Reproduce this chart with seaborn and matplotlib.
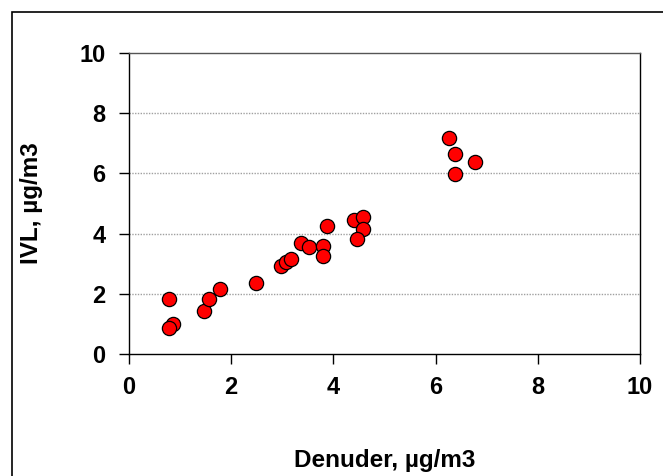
import matplotlib
matplotlib.use("Agg")
import matplotlib.pyplot as plt
import seaborn as sns
import pandas as pd
from matplotlib.patches import Rectangle

denuder = [0.79, 0.87, 0.79, 1.47, 1.57, 1.78, 2.49, 2.97, 3.07, 3.18,
           3.37, 3.53, 3.80, 3.80, 3.87, 4.40, 4.58, 4.58, 4.47,
           6.27, 6.38, 6.77, 6.37]
ivl = [1.83, 0.99, 0.86, 1.43, 1.83, 2.16, 2.37, 2.93, 3.04, 3.16,
       3.68, 3.56, 3.58, 3.26, 4.24, 4.45, 4.54, 4.14, 3.82,
       7.17, 6.64, 6.37, 5.97]
ticks = [0, 2, 4, 6, 8, 10]
xlabel = "Denuder, µg/m3"
ylabel = "IVL, µg/m3"

df = pd.DataFrame({"Denuder": denuder, "IVL": ivl})

sns.set_style("white")
plt.rcParams['font.family'] = ['Liberation Sans', 'DejaVu Sans']
plt.rcParams['font.weight'] = 'bold'
plt.rcParams['text.color'] = 'black'
plt.rcParams['axes.labelcolor'] = 'black'
plt.rcParams['xtick.color'] = 'black'
plt.rcParams['ytick.color'] = 'black'

fig = plt.figure(figsize=(6.63, 4.76), dpi=100)
ax = fig.add_axes([129/663, 1 - 354/476, (640-129)/663, (354-53)/476])

for y in ticks[1:-1]:
    ax.axhline(y, color='#a0a0a0', lw=1.0, ls=(0, (1, 1)), zorder=0)

sns.scatterplot(data=df, x="Denuder", y="IVL", ax=ax, s=105, color='#ff0000',
                edgecolor='black', linewidth=0.9, zorder=3, clip_on=False)

ax.set_xlim(0, 10)
ax.set_ylim(0, 10)
ax.set_xticks(ticks)
ax.set_yticks(ticks)
ax.set_xticklabels([str(t) for t in ticks], fontsize=17, fontweight='bold', color='black')
ax.set_yticklabels([str(t) for t in ticks], fontsize=17, fontweight='bold', color='black')
ax.tick_params(axis='both', direction='out', length=7, width=1, color='black',
               bottom=True, left=True)
ax.tick_params(axis='x', pad=9)
ax.tick_params(axis='y', pad=10)
for side in ['left', 'bottom', 'right', 'top']:
    ax.spines[side].set_visible(True)
    ax.spines[side].set_color('black')
    ax.spines[side].set_linewidth(1.0)
ax.spines['top'].set_color('#555555')
ax.set_xlabel(xlabel, fontsize=17.5, fontweight='bold', labelpad=36, color='black')
ax.set_ylabel(ylabel, fontsize=17.5, fontweight='bold', labelpad=26, color='black')

fig.patches.append(Rectangle((11.5/663, -0.5), 2, 1.5 - 11.5/476, transform=fig.transFigure,
                             fill=False, edgecolor='black', lw=1.2))

fig.savefig("out.png", dpi=100)
